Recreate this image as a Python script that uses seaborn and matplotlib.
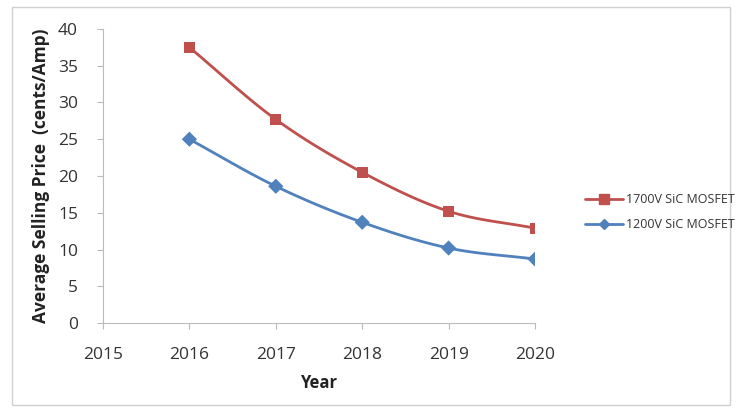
import numpy as np
import pandas as pd
import matplotlib
matplotlib.use("Agg")
import matplotlib.pyplot as plt
import seaborn as sns
from matplotlib.patches import Rectangle
from matplotlib.lines import Line2D

years = [2016, 2017, 2018, 2019, 2020]
price_1700v = [37.5, 27.7, 20.5, 15.2, 12.9]
price_1200v = [25.0, 18.6, 13.7, 10.2, 8.7]
series_names = ["1700V SiC MOSFET", "1200V SiC MOSFET"]
x_ticks = [2015, 2016, 2017, 2018, 2019, 2020]
y_ticks = [0, 5, 10, 15, 20, 25, 30, 35, 40]

sns.set_theme(style="white")
plt.rcParams["font.family"] = ["Open Sans", "DejaVu Sans"]

def smooth(x, y, n=30):
    # Catmull-Rom style smoothing (like Excel's smoothed line) for drawing
    x = np.asarray(x, float); y = np.asarray(y, float)
    px = np.concatenate([[2*x[0]-x[1]], x, [2*x[-1]-x[-2]]])
    py = np.concatenate([[2*y[0]-y[1]], y, [2*y[-1]-y[-2]]])
    xs, ys = [], []
    for i in range(1, len(px)-2):
        t = np.linspace(0, 1, n, endpoint=(i == len(px)-3))
        for P, out in ((px, xs), (py, ys)):
            p0, p1, p2, p3 = P[i-1], P[i], P[i+1], P[i+2]
            out.extend(0.5*((2*p1) + (-p0+p2)*t + (2*p0-5*p1+4*p2-p3)*t**2 + (-p0+3*p1-3*p2+p3)*t**3))
    return np.array(xs), np.array(ys)

df = pd.DataFrame({"Year": years * 2,
                   "Price": price_1700v + price_1200v,
                   "Series": [series_names[0]]*len(years) + [series_names[1]]*len(years)})

fig = plt.figure(figsize=(7.37, 4.12), dpi=100)
ax = fig.add_axes([103/737, 1-323/412, (535-103)/737, (323-29)/412])

colors = {series_names[0]: "#C0504D", series_names[1]: "#4F81BD"}
markers = {series_names[0]: "s", series_names[1]: "D"}
sizes = {series_names[0]: 7, series_names[1]: 5.5}

for name, vals in zip(series_names, [price_1700v, price_1200v]):
    sx, sy = smooth(years, vals)
    ax.plot(sx, sy, color=colors[name], lw=2, zorder=2)
sns.scatterplot(data=df, x="Year", y="Price", hue="Series", style="Series",
                palette=colors, markers=markers, s=60, edgecolor="none",
                legend=False, ax=ax, zorder=3)

handles = [Line2D([0], [0], color=colors[n], lw=2, marker=markers[n],
                  markersize=sizes[n], markeredgecolor=colors[n]) for n in series_names]
fig.legend(handles, series_names, loc="center left", bbox_to_anchor=(574/737, 1-212/412),
           frameon=False, fontsize=9, handlelength=3.0, labelspacing=0.95,
           handletextpad=0.25, labelcolor="#333333")

ax.set_xlim(2015, 2020)
ax.set_ylim(0, 40)
ax.set_xticks(x_ticks)
ax.set_yticks(y_ticks)
ax.tick_params(axis="both", labelsize=12.5, colors="#333333", length=4, width=0.8,
               direction="out", left=True, bottom=True)
ax.tick_params(axis="y", pad=14)
ax.tick_params(axis="x", pad=13)
ax.tick_params(axis="both", color="#BBBBBB")
for s in ["top", "right"]:
    ax.spines[s].set_visible(False)
for s in ["left", "bottom"]:
    ax.spines[s].set_color("#BBBBBB")
    ax.spines[s].set_linewidth(0.8)
ax.grid(False)
ax.set_xlabel("Year", fontsize=12, fontweight="bold", color="#222222", labelpad=8)
ax.set_ylabel("Average Selling Price  (cents/Amp)", fontsize=12.5, fontweight="bold",
              color="#222222", labelpad=6)

fig.patches.append(Rectangle((12/737, 7/412), (730-12)/737, (405-7)/412,
                             transform=fig.transFigure, fill=False,
                             edgecolor="#D0D0D0", lw=1))

fig.savefig("out.png", dpi=100)
